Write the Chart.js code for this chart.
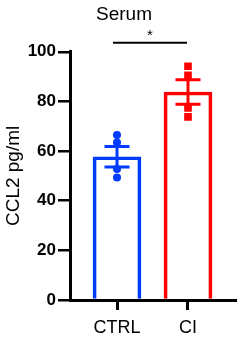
<!DOCTYPE html>
<html>
<head>
<meta charset="utf-8">
<script src="https://cdn.jsdelivr.net/npm/chart.js@4.4.1/dist/chart.umd.min.js"></script>
<style>
  html, body { margin: 0; padding: 0; background: #fff; }
  #wrap { width: 244px; height: 355px; position: relative; }
</style>
</head>
<body>
<div id="wrap"><canvas id="chart"></canvas></div>
<script>
// values
const categories = ['CTRL', 'CI'];
const means = [57.7, 83.8];
const sems = [4.1, 4.9];
const ctrlPoints = [66.5, 63.5, 52.8, 49.4];
const ciPoints = [94.2, 90.5, 77.4, 73.8];
const yTicks = [0, 20, 40, 60, 80, 100];
const sigLevel = 103.6;
const sigText = '*';

const BLUE = 'rgb(0, 60, 255)';
const RED = 'rgb(255, 0, 0)';
const colors = [BLUE, RED];
const FONT = 'Liberation Sans, Arial, sans-serif';

// error bars + significance bar, placed through the chart scales
const errorBars = {
  id: 'errorBars',
  afterDatasetsDraw(chart) {
    const { ctx, scales: { x, y } } = chart;
    ctx.save();
    ctx.lineWidth = 3;
    means.forEach((m, i) => {
      const px = x.getPixelForValue(i);
      const top = y.getPixelForValue(m + sems[i]);
      const bot = y.getPixelForValue(m - sems[i]);
      ctx.strokeStyle = colors[i];
      ctx.beginPath();
      ctx.moveTo(px, top);
      ctx.lineTo(px, bot);
      ctx.moveTo(px - 12.5, top);
      ctx.lineTo(px + 12.5, top);
      ctx.moveTo(px - 12.5, bot);
      ctx.lineTo(px + 12.5, bot);
      ctx.stroke();
    });
    // significance line
    const sy = y.getPixelForValue(sigLevel);
    const x0 = x.getPixelForValue(0) - 4;
    const x1 = x.getPixelForValue(1) - 1;
    ctx.strokeStyle = '#000';
    ctx.lineWidth = 2;
    ctx.beginPath();
    ctx.moveTo(x0, sy);
    ctx.lineTo(x1, sy);
    ctx.stroke();
    ctx.fillStyle = '#000';
    ctx.font = '15px ' + FONT;
    ctx.textAlign = 'center';
    ctx.textBaseline = 'middle';
    ctx.fillText(sigText, (x0 + x1) / 2, sy - 7);
    ctx.restore();
  }
};

new Chart(document.getElementById('chart'), {
  type: 'bar',
  data: {
    datasets: [
      {
        type: 'bar',
        data: means.map((m, i) => ({ x: i, y: m })),
        backgroundColor: 'rgba(255,255,255,0)',
        borderColor: colors,
        borderWidth: 3,
        borderSkipped: 'start',
        barThickness: 48,
        order: 3
      },
      {
        type: 'scatter',
        data: ctrlPoints.map(v => ({ x: 0, y: v })),
        pointStyle: 'circle',
        pointRadius: 4,
        backgroundColor: BLUE,
        borderColor: BLUE,
        borderWidth: 0,
        order: 1
      },
      {
        type: 'scatter',
        data: ciPoints.map(v => ({ x: 1, y: v })),
        pointStyle: 'rect',
        pointRadius: 5.4,
        backgroundColor: RED,
        borderColor: RED,
        borderWidth: 0,
        order: 1
      }
    ]
  },
  options: {
    responsive: true,
    maintainAspectRatio: false,
    animation: false,
    layout: { padding: { left: 4, right: 0, top: 0, bottom: 0 } },
    plugins: {
      legend: { display: false },
      tooltip: { enabled: false },
      title: {
        display: true,
        text: 'Serum',
        color: '#000',
        font: { family: FONT, size: 19, weight: 'normal' },
        padding: { top: 3, bottom: 26 }
      }
    },
    scales: {
      x: {
        type: 'linear',
        offset: false,
        min: -0.662,
        max: 1.662,
        afterBuildTicks: s => { s.ticks = categories.map((c, i) => ({ value: i })); },
        afterFit: s => { s.height = 55; },
        border: { display: true, color: '#000', width: 3 },
        grid: { display: true, offset: false, drawOnChartArea: false, drawTicks: true, tickLength: 10, color: '#000', lineWidth: 3 },
        ticks: {
          color: '#000',
          padding: 7,
          font: { family: FONT, size: 18 },
          callback: v => categories[v]
        }
      },
      y: {
        min: 0,
        max: 100,
        afterBuildTicks: s => { s.ticks = yTicks.map(v => ({ value: v })); },
        afterFit: s => { s.width = 66; },
        border: { display: true, color: '#000', width: 3 },
        grid: { display: true, drawOnChartArea: false, drawTicks: true, tickLength: 12, color: '#000', lineWidth: 2.5 },
        ticks: {
          color: '#000',
          padding: 2,
          font: { family: FONT, size: 17, weight: 'bold' }
        },
        title: {
          display: true,
          text: 'CCL2 pg/ml',
          color: '#000',
          padding: 0,
          font: { family: FONT, size: 19, lineHeight: 1 }
        }
      },
      y2: {
        position: 'right',
        display: true,
        min: 0,
        max: 100,
        afterFit: s => { s.width = 9; },
        border: { display: false },
        grid: { display: false },
        ticks: { display: false }
      }
    }
  },
  plugins: [errorBars]
});
</script>
</body>
</html>
